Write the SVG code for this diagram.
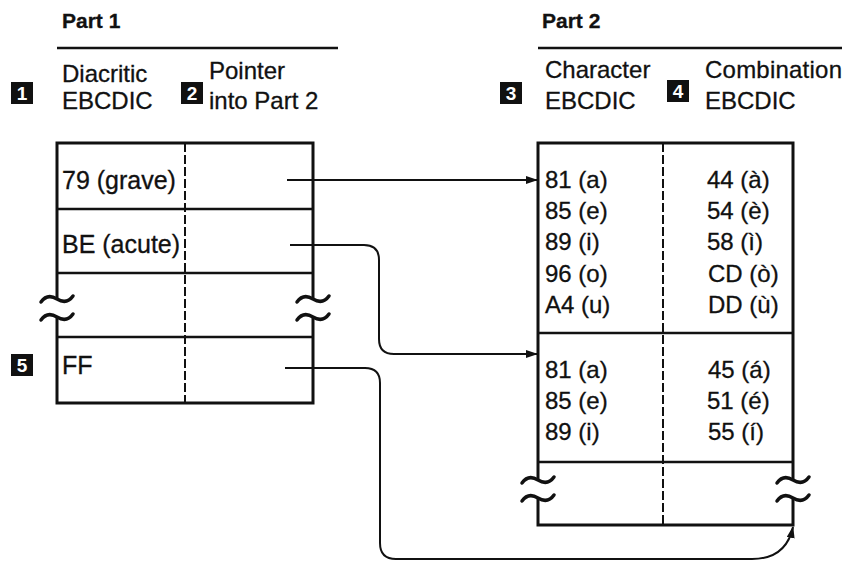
<svg xmlns="http://www.w3.org/2000/svg" width="846" height="564" viewBox="0 0 846 564">
<defs>
<style>
text { font-family: "Liberation Sans", Arial, sans-serif; fill: #111; stroke: #111; stroke-width: 0.3; }
.t { font-size: 24px; }
.tl { font-size: 25px; }
.h { font-size: 21px; font-weight: bold; }
.bn { font-size: 19px; font-weight: bold; fill: #fff; stroke: none; text-anchor: middle; }
.badge { fill: #111; }
.border { fill: none; stroke: #111; stroke-width: 3; }
.rule { stroke: #111; stroke-width: 2.5; }
.dash { stroke: #111; stroke-width: 2; stroke-dasharray: 9 3; }
.conn { fill: none; stroke: #111; stroke-width: 2; }
.wave { fill: none; stroke: #111; stroke-width: 3.5; stroke-linecap: round; }
</style>
<marker id="arr" markerWidth="12" markerHeight="8" refX="11" refY="4" orient="auto" markerUnits="userSpaceOnUse">
<path d="M0,0 L12,4 L0,8 z" fill="#111"/>
</marker>
<path id="wv" d="M-16,3 C-11,-4 -5,-3 0,0 C5,3 11,4 16,-3"/>
</defs>

<g id="headings">
<text class="h" x="62" y="28">Part 1</text>
<line class="rule" x1="57" y1="48" x2="338" y2="48"/>
<text class="h" x="542" y="28">Part 2</text>
<line class="rule" x1="538" y1="48" x2="842" y2="48"/>
</g>

<g id="label-1">
<rect class="badge" x="11" y="82" width="22" height="22"/>
<text class="bn" x="22" y="100">1</text>
<text class="t" x="62" y="82">Diacritic</text>
<text class="t" x="62" y="109">EBCDIC</text>
</g>
<g id="label-2">
<rect class="badge" x="181" y="82" width="22" height="22"/>
<text class="bn" x="192" y="100">2</text>
<text class="t" x="209" y="79">Pointer</text>
<text class="t" x="209" y="109">into Part 2</text>
</g>
<g id="label-3">
<rect class="badge" x="500" y="82" width="22" height="22"/>
<text class="bn" x="511" y="100">3</text>
<text class="t" x="545" y="78">Character</text>
<text class="t" x="545" y="109">EBCDIC</text>
</g>
<g id="label-4">
<rect class="badge" x="667" y="80" width="22" height="22"/>
<text class="bn" x="678" y="98">4</text>
<text class="t" x="705" y="78" textLength="137" lengthAdjust="spacing">Combination</text>
<text class="t" x="705" y="109">EBCDIC</text>
</g>

<g id="part1-table">
<path class="border" d="M57,299 V143 H313 V299 M57,317 V403 H313 V317"/>
<line class="rule" x1="57" y1="209" x2="313" y2="209"/>
<line class="rule" x1="57" y1="273" x2="313" y2="273"/>
<line class="rule" x1="57" y1="337" x2="313" y2="337"/>
<line class="dash" x1="185" y1="143" x2="185" y2="403"/>
<use href="#wv" class="wave" x="57" y="299"/>
<use href="#wv" class="wave" x="57" y="317"/>
<use href="#wv" class="wave" x="313" y="299"/>
<use href="#wv" class="wave" x="313" y="317"/>
</g>
<g id="row-grave"><text class="tl" x="62" y="189">79 (grave)</text></g>
<g id="row-acute"><text class="tl" x="62" y="253">BE (acute)</text></g>
<g id="row-ff">
<rect class="badge" x="11" y="354" width="22" height="22"/>
<text class="bn" x="22" y="372">5</text>
<text class="tl" x="62" y="374">FF</text>
</g>

<g id="part2-table">
<path class="border" d="M538,480 V143 H793 V480 M538,498 V525 H793 V498"/>
<line class="rule" x1="538" y1="333" x2="793" y2="333"/>
<line class="rule" x1="538" y1="462" x2="793" y2="462"/>
<line class="dash" x1="663" y1="143" x2="663" y2="525"/>
<use href="#wv" class="wave" x="538" y="480"/>
<use href="#wv" class="wave" x="538" y="498"/>
<use href="#wv" class="wave" x="793" y="480"/>
<use href="#wv" class="wave" x="793" y="498"/>
</g>
<g id="grave-entries">
<text class="t" x="545" y="188">81 (a)</text>
<text class="t" x="545" y="219">85 (e)</text>
<text class="t" x="545" y="250">89 (i)</text>
<text class="t" x="545" y="282">96 (o)</text>
<text class="t" x="545" y="313">A4 (u)</text>
<text class="t" x="707" y="188">44 (à)</text>
<text class="t" x="707" y="219">54 (è)</text>
<text class="t" x="707" y="250">58 (ì)</text>
<text class="t" x="708" y="282">CD (ò)</text>
<text class="t" x="708" y="313">DD (ù)</text>
</g>
<g id="acute-entries">
<text class="t" x="545" y="378">81 (a)</text>
<text class="t" x="545" y="409">85 (e)</text>
<text class="t" x="545" y="440">89 (i)</text>
<text class="t" x="708" y="378">45 (á)</text>
<text class="t" x="707" y="409">51 (é)</text>
<text class="t" x="708" y="440">55 (í)</text>
</g>

<g id="connectors">
<path class="conn" d="M287,180 H537" marker-end="url(#arr)"/>
<path class="conn" d="M290,245 H364 Q379,245 379,260 V339 Q379,354 394,354 H537" marker-end="url(#arr)"/>
<path class="conn" d="M285,368 H365 Q380,368 380,383 V543 Q380,559 396,559 H752 Q786,559 793,527" marker-end="url(#arr)"/>
</g>
</svg>
